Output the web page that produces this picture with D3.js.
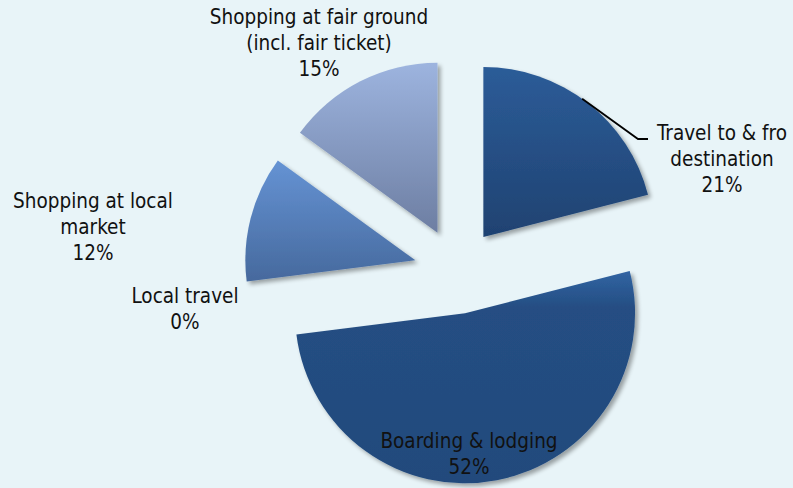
<!DOCTYPE html>
<html>
<head>
<meta charset="utf-8">
<script src="https://cdn.jsdelivr.net/npm/d3@7/dist/d3.min.js"></script>
<style>
  html, body { margin: 0; padding: 0; background: #e8f4f8; }
  svg { display: block; }
  text { font-family: "DejaVu Sans Condensed", "DejaVu Sans", sans-serif; font-size: 20.5px; fill: #111; }
</style>
</head>
<body>
<svg id="chart" width="793" height="488"></svg>
<script>
// Spending categories (clockwise from 12 o'clock) and their shares in percent
const categories = [
  ["Travel to & fro", "destination"],
  ["Boarding & lodging"],
  ["Local travel"],
  ["Shopping at local", "market"],
  ["Shopping at fair ground", "(incl. fair ticket)"]
];
const shares = [21, 52, 0, 12, 15];

// Per-slice gradient colours (top, optional mid, bottom)
const gradients = [
  [[0, "#2c5c98"], [1, "#1f4271"]],
  [[0, "#3164a3"], [0.17, "#254e83"], [1, "#224a7c"]],
  [[0, "#4f79b8"], [1, "#3f6296"]],
  [[0, "#6593d4"], [1, "#46699d"]],
  [[0, "#9db4df"], [1, "#6d7ea2"]]
];

// Label anchor points (centre x, first baseline y)
const labelPos = [
  [722, 140], [469, 448], [185, 303], [93, 208], [319, 24]
];

const W = 793, H = 488;
const cx = 457, cy = 271, R = 170, explode = 43;

const svg = d3.select("#chart");
svg.append("rect").attr("width", W).attr("height", H).attr("fill", "#e8f4f8");

const defs = svg.append("defs");
const shadow = defs.append("filter").attr("id", "shadow")
  .attr("x", "-10%").attr("y", "-10%").attr("width", "130%").attr("height", "130%");
shadow.append("feGaussianBlur").attr("in", "SourceAlpha").attr("stdDeviation", 2.2).attr("result", "b");
shadow.append("feOffset").attr("in", "b").attr("dx", 2.5).attr("dy", 3).attr("result", "o");
shadow.append("feComponentTransfer").attr("in", "o").attr("result", "s")
  .append("feFuncA").attr("type", "linear").attr("slope", 0.35);
const merge = shadow.append("feMerge");
merge.append("feMergeNode").attr("in", "s");
merge.append("feMergeNode").attr("in", "SourceGraphic");

gradients.forEach((stops, i) => {
  const g = defs.append("linearGradient").attr("id", "g" + i)
    .attr("x1", 0).attr("y1", 0).attr("x2", 0).attr("y2", 1);
  stops.forEach(([o, c]) => g.append("stop").attr("offset", o).attr("stop-color", c));
});

const pie = d3.pie().sort(null).value(d => d).startAngle(0).endAngle(2 * Math.PI);
const arcs = pie(shares);
const arc = d3.arc().innerRadius(0).outerRadius(R);

const root = svg.append("g").attr("transform", `translate(${cx},${cy})`);

// Each slice is pushed outward along its bisector
const offset = d => {
  const a = (d.startAngle + d.endAngle) / 2;
  return [Math.sin(a) * explode, -Math.cos(a) * explode];
};

root.selectAll("path.slice")
  .data(arcs)
  .join("path")
  .attr("class", "slice")
  .attr("transform", d => `translate(${offset(d)})`)
  .attr("d", arc)
  .attr("fill", (d, i) => `url(#g${i})`)
  .attr("filter", "url(#shadow)");

// Leader line from the travel slice edge to its label
const travel = arcs[0];
const [tox, toy] = offset(travel);
const la = travel.startAngle + (travel.endAngle - travel.startAngle) * 0.47;
const p0 = [cx + tox + Math.sin(la) * R, cy + toy - Math.cos(la) * R];
svg.append("polyline")
  .attr("points", [p0, [638, 139], [648, 139]].map(p => p.join(",")).join(" "))
  .attr("fill", "none").attr("stroke", "#000").attr("stroke-width", 1.8);

// Category labels with their percentages
const lineH = 26;
svg.selectAll("text.label")
  .data(arcs)
  .join("text")
  .attr("class", "label")
  .attr("text-anchor", "middle")
  .each(function (d, i) {
    const lines = categories[i].concat([d3.format("d")(d.data) + "%"]);
    const [x, y] = labelPos[i];
    d3.select(this).selectAll("tspan")
      .data(lines)
      .join("tspan")
      .attr("x", x)
      .attr("y", (t, j) => y + j * lineH)
      .text(t => t);
  });
</script>
</body>
</html>
